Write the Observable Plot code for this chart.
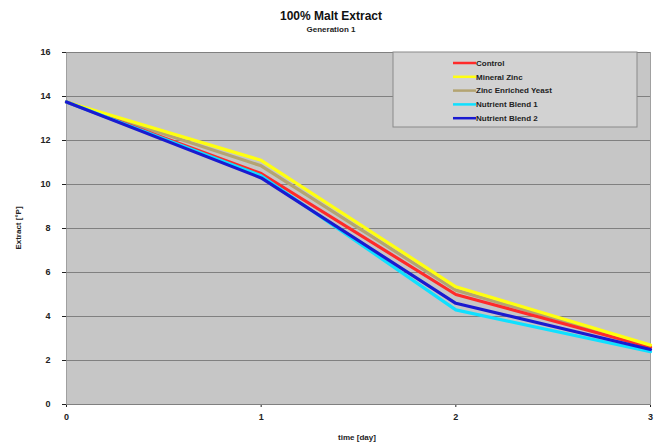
<!DOCTYPE html>
<html><head><meta charset="utf-8">
<script src="https://cdn.jsdelivr.net/npm/d3@7"></script>
<script src="https://cdn.jsdelivr.net/npm/@observablehq/plot@0.6"></script>
<style>
body{margin:0;background:#fff;font-family:"Liberation Sans",Arial,sans-serif;}
#wrap{position:relative;width:654px;height:448px;}
#title{position:absolute;left:0;width:662px;top:9px;text-align:center;font-weight:bold;font-size:12px;color:#111;}
#sub{position:absolute;left:0;width:662px;top:25px;text-align:center;font-weight:bold;font-size:8px;color:#222;}
</style></head>
<body><div id="wrap"><div id="chart"></div><div id="title">100% Malt Extract</div><div id="sub">Generation 1</div></div>
<script>
const days = [0, 1, 2, 3];
const seriesNames = ["Control", "Mineral Zinc", "Zinc Enriched Yeast", "Nutrient Blend 1", "Nutrient Blend 2"];
const seriesColors = ["#ff2a2a", "#ffff10", "#b4a472", "#10e0ff", "#1a1ad0"];
const control = [13.75, 10.5, 5.0, 2.6];
const mineralZinc = [13.75, 11.1, 5.35, 2.7];
const zincEnrichedYeast = [13.75, 10.85, 5.2, 2.65];
const nutrientBlend1 = [13.75, 10.4, 4.3, 2.4];
const nutrientBlend2 = [13.75, 10.3, 4.6, 2.5];
const yTicks = [0, 2, 4, 6, 8, 10, 12, 14, 16];

const valuesBySeries = [control, mineralZinc, zincEnrichedYeast, nutrientBlend1, nutrientBlend2];
const drawOrder = [2, 0, 1, 3, 4];
const data = [];
drawOrder.forEach(si => days.forEach((d, i) => data.push({series: seriesNames[si], day: d, value: valuesBySeries[si][i]})));

const plot = Plot.plot({
  width: 654, height: 448,
  marginLeft: 66, marginRight: 4, marginTop: 52, marginBottom: 44,
  style: {fontFamily: "Liberation Sans, Arial, sans-serif", fontSize: "9px", fontWeight: "bold", color: "#222", background: "transparent"},
  x: {domain: [0, 3], ticks: days, tickFormat: d => d, label: null, tickSize: 3, tickPadding: 6},
  y: {domain: [0, 16], ticks: yTicks, label: null, tickSize: 4, tickPadding: 12},
  color: {domain: seriesNames, range: seriesColors},
  marks: [
    Plot.frame({fill: "#c6c6c6", stroke: "#a0a0a0"}),
    Plot.gridY(yTicks, {stroke: "#808080", strokeOpacity: 1, strokeWidth: 1.2}),
    Plot.line(data, {x: "day", y: "value", z: "series", stroke: "series", strokeWidth: 3.2})
  ]
});
document.getElementById("chart").appendChild(plot);

const svg = d3.select(plot);
// axis titles
svg.append("text").attr("x", 357).attr("y", 440).attr("text-anchor", "middle")
  .attr("font-size", 8).attr("font-weight", "bold").attr("fill", "#222").text("time [day]");
svg.append("text").attr("transform", "translate(21,228) rotate(-90)").attr("text-anchor", "middle")
  .attr("font-size", 8).attr("font-weight", "bold").attr("fill", "#222").text("Extract [°P]");

// legend
const lg = svg.append("g").attr("text-anchor", "start");
lg.append("rect").attr("x", 393).attr("y", 52).attr("width", 244).attr("height", 75)
  .attr("fill", "#d2d2d2").attr("stroke", "#8a8a8a").attr("stroke-width", 1);
seriesNames.forEach((name, i) => {
  const y = 63 + i * 13.8;
  lg.append("line").attr("x1", 453).attr("x2", 476).attr("y1", y).attr("y2", y)
    .attr("stroke", seriesColors[i]).attr("stroke-width", 2.5);
  lg.append("text").attr("x", 476).attr("y", y).attr("dy", "0.35em").attr("text-anchor", "start")
    .attr("font-size", 8).attr("font-weight", "bold").attr("fill", "#222").text(name);
});
</script>
</body></html>
